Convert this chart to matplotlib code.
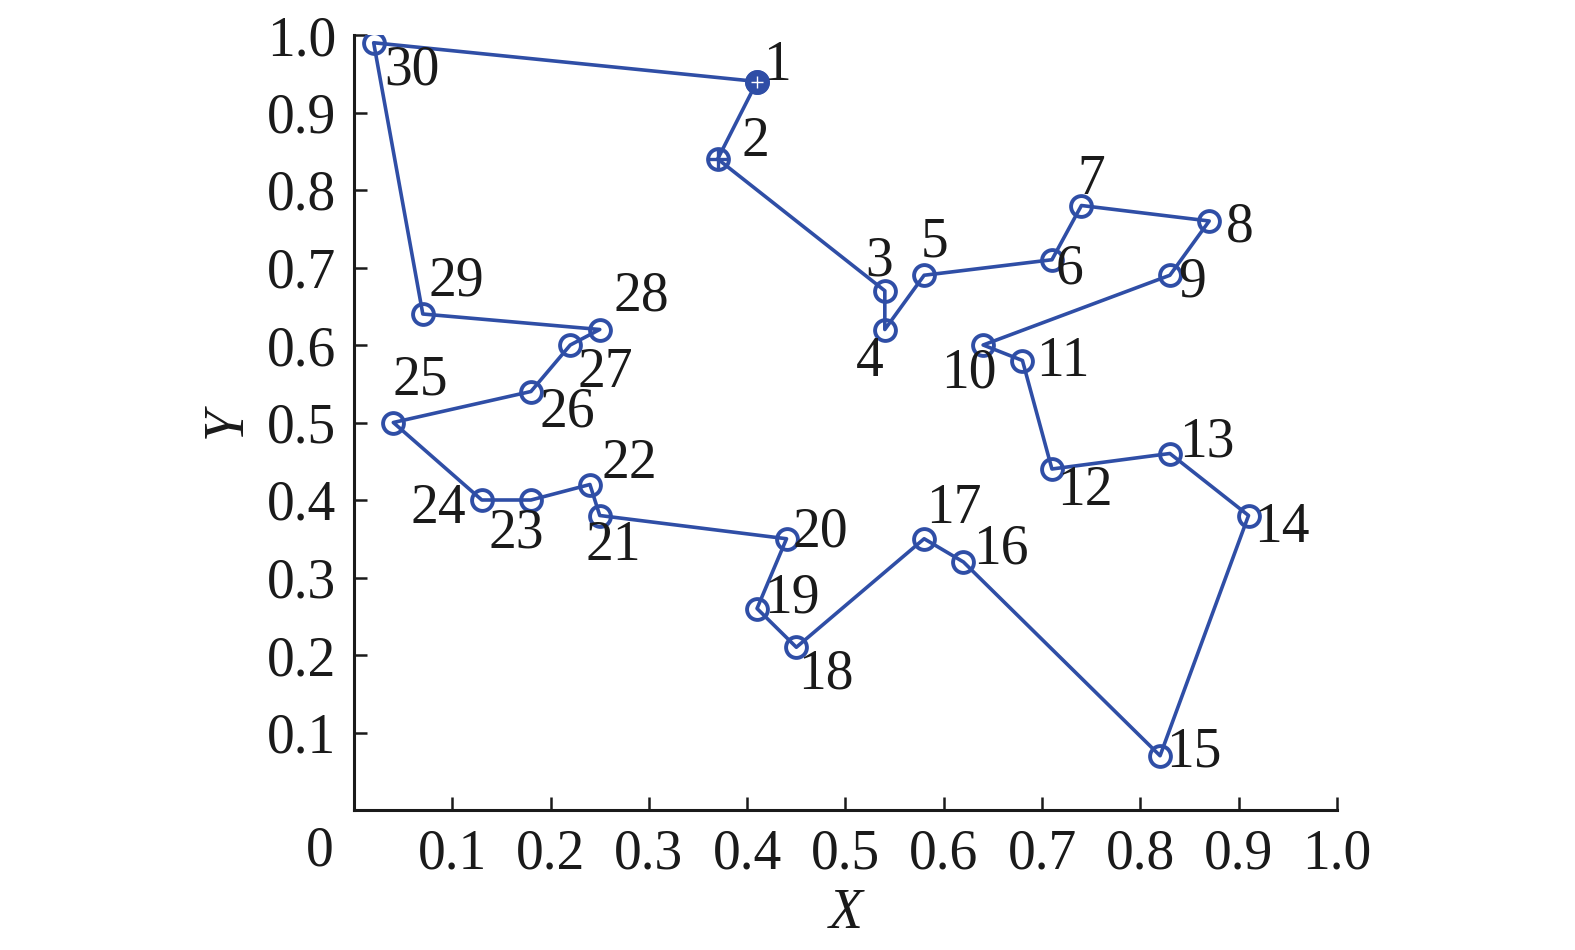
import matplotlib
matplotlib.use("Agg")
import matplotlib.pyplot as plt

# ---- data ----
city_ids = list(range(1, 31))
xs = [0.41, 0.37, 0.54, 0.54, 0.58, 0.71, 0.74, 0.87, 0.83, 0.64,
      0.68, 0.71, 0.83, 0.91, 0.82, 0.62, 0.58, 0.45, 0.41, 0.44,
      0.25, 0.24, 0.18, 0.13, 0.04, 0.18, 0.22, 0.25, 0.07, 0.02]
ys = [0.94, 0.84, 0.67, 0.62, 0.69, 0.71, 0.78, 0.76, 0.69, 0.60,
      0.58, 0.44, 0.46, 0.38, 0.07, 0.32, 0.35, 0.21, 0.26, 0.35,
      0.38, 0.42, 0.40, 0.40, 0.50, 0.54, 0.60, 0.62, 0.64, 0.99]
tick_vals = [0.1, 0.2, 0.3, 0.4, 0.5, 0.6, 0.7, 0.8, 0.9, 1.0]
tick_labels = ["0.1", "0.2", "0.3", "0.4", "0.5", "0.6", "0.7", "0.8", "0.9", "1.0"]

# label offsets (pixels) for each city number
label_offsets = [(20, 15), (38, 17), (-6, 29), (-15, -33), (10, 33), (18, -10),
                 (10, 25), (31, -7), (22, -7), (-14, -29), (40, -1), (33, -22),
                 (37, 11), (33, -12), (34, 3), (37, 12), (30, 30), (30, -27),
                 (35, 10), (34, 6), (14, -31), (39, 21), (-15, -34), (-43, -9),
                 (27, 42), (36, -21), (35, -28), (42, 33), (34, 32), (38, -28)]

BLUE = "#2f4ea6"
FS = 40
TXT = '#1a1a1a'
plt.rcParams['font.family'] = ['Liberation Serif', 'DejaVu Serif']

fig = plt.figure(figsize=(15.75, 9.5), dpi=100)
ax = fig.add_axes([354 / 1575, 1 - 810 / 950, (1337 - 354) / 1575, (810 - 35) / 950])

# closed tour
tx = xs + [xs[0]]
ty = ys + [ys[0]]
ax.plot(tx, ty, color=BLUE, lw=2.6, zorder=2)
ax.plot(xs, ys, 'o', ms=15, mfc='none', mec=BLUE, mew=2.8, zorder=3)
# start markers
ax.plot(xs[0], ys[0], 'o', ms=15, mfc=BLUE, mec=BLUE, mew=2.8, zorder=4)
ax.plot(xs[0], ys[0], '+', ms=9, mec='white', mew=1.0, zorder=5)
ax.plot(xs[1], ys[1], '+', ms=15, mec=BLUE, mew=2.4, zorder=5)

for cid, x, y, (dx, dy) in zip(city_ids, xs, ys, label_offsets):
    ax.annotate(str(cid), (x, y), xytext=(dx, dy), textcoords='offset pixels',
                ha='center', va='center', fontsize=FS, color=TXT)

ax.set_xlim(0, 1.0)
ax.set_ylim(0, 1.0)
ax.set_xticks(tick_vals)
ax.set_xticklabels(tick_labels)
ax.set_yticks(tick_vals)
ax.set_yticklabels(tick_labels)
ax.tick_params(direction='in', length=9.5, width=1.8, labelsize=FS,
               colors=TXT, pad=13)
for s in ['top', 'right']:
    ax.spines[s].set_visible(False)
for s in ['left', 'bottom']:
    ax.spines[s].set_linewidth(2.2)
    ax.spines[s].set_color(TXT)

ax.text(-0.035, -0.053, "0", transform=ax.transAxes, ha='center', va='center',
        fontsize=FS, color=TXT)
ax.set_xlabel("X", fontsize=FS, style='italic', labelpad=6, color=TXT)
ax.set_ylabel("Y", fontsize=FS, style='italic', labelpad=10, color=TXT)

fig.savefig("out.png", dpi=100)
